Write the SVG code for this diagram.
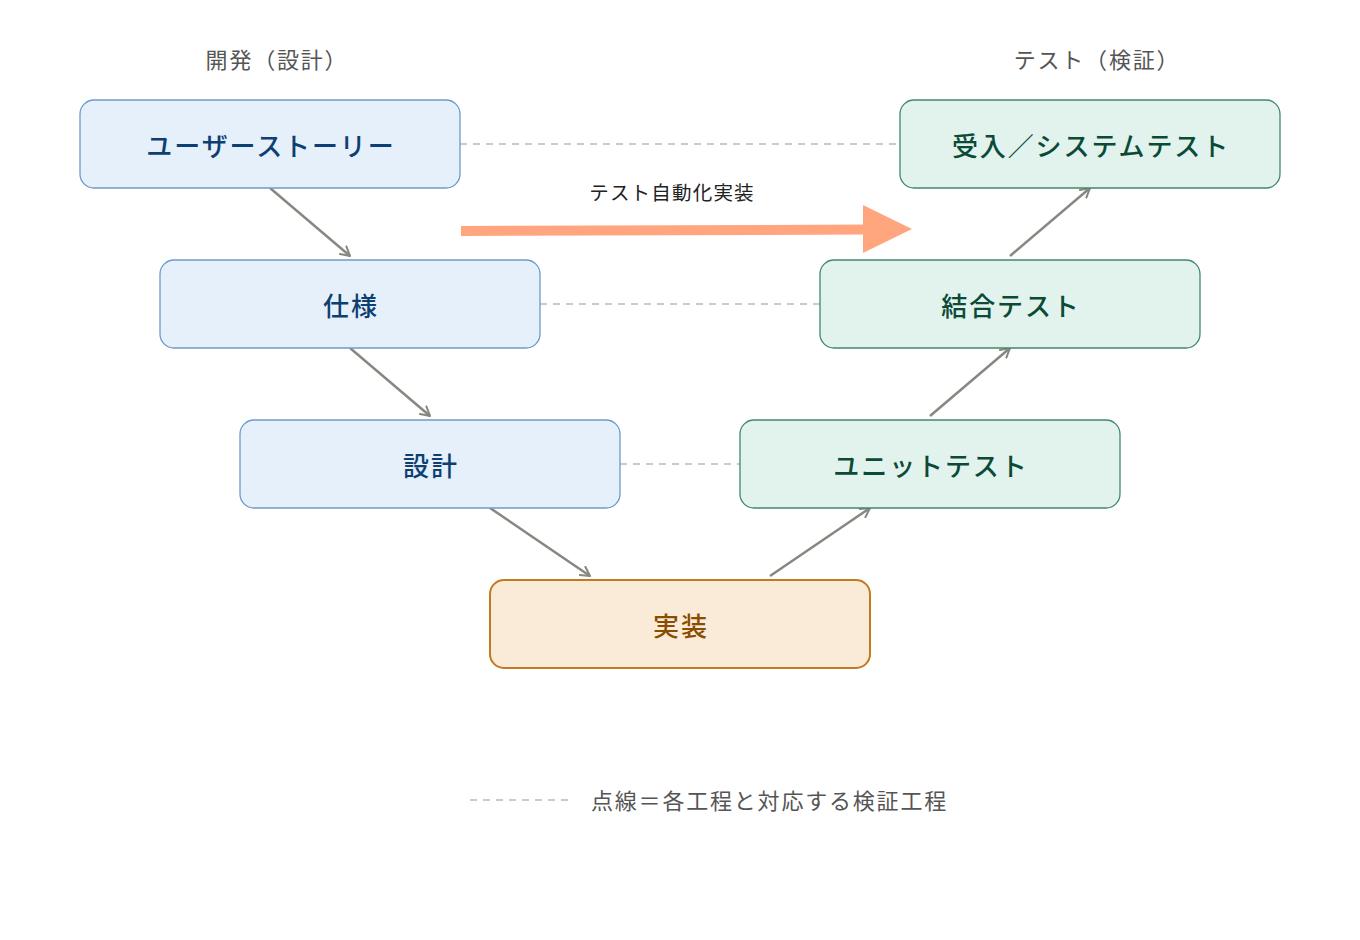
<svg xmlns="http://www.w3.org/2000/svg" width="1360" height="940" viewBox="0 0 1360 940">
<defs>
<style>
text{font-family:"Noto Sans CJK JP","Noto Sans",sans-serif;text-anchor:middle}
.hdr{font-size:22px;fill:#555;letter-spacing:1.8px}
.lbl{font-size:26px;font-weight:500;letter-spacing:1.9px}
.dev rect{fill:#E6F0FA;stroke:#6C9ACB;stroke-width:1.3}
.dev text{fill:#0D3F73}
.tst rect{fill:#E1F3EC;stroke:#3E8A6C;stroke-width:1.3}
.tst text{fill:#0B4A37}
.impl rect{fill:#FAEBD8;stroke:#C07A20;stroke-width:2}
.impl text{fill:#8A4C00}
.arr{stroke:#888780;stroke-width:2.5;fill:none;marker-end:url(#ah)}
.dash{stroke:#BDBBB6;stroke-width:1.5;stroke-dasharray:7 6;fill:none}
</style>
<marker id="ah" viewBox="0 0 12 12" refX="10" refY="6" markerWidth="12" markerHeight="12" markerUnits="userSpaceOnUse" orient="auto">
<path d="M1,1 L10,6 L1,11" fill="none" stroke="#888780" stroke-width="2" stroke-linecap="round" stroke-linejoin="round"/>
</marker>
</defs>
<rect width="1360" height="940" fill="#fff"/>
<text class="hdr" x="277" y="68">開発（設計）</text>
<text class="hdr" x="1097" y="68">テスト（検証）</text>
<g id="connectors">
<line class="dash" x1="460" y1="144" x2="900" y2="144"/>
<line class="dash" x1="540" y1="304" x2="820" y2="304"/>
<line class="dash" x1="620" y1="464" x2="740" y2="464"/>
<line class="arr" x1="270" y1="188" x2="350" y2="256"/>
<line class="arr" x1="350" y1="348" x2="430" y2="416"/>
<line class="arr" x1="490" y1="508" x2="590" y2="576"/>
<line class="arr" x1="770" y1="576" x2="870" y2="508"/>
<line class="arr" x1="930" y1="416" x2="1010" y2="348"/>
<line class="arr" x1="1010" y1="256" x2="1090" y2="188"/>
<line x1="461" y1="231" x2="866" y2="229.5" stroke="#FFA67E" stroke-width="10"/>
<polygon points="863,205 912,229 863,253" fill="#FFA67E"/>
<text x="672" y="200" style="font-size:19.5px;fill:#222;letter-spacing:1.2px">テスト自動化実装</text>
</g>
<g id="n-story" class="dev"><rect x="80" y="100" width="380" height="88" rx="14"/><text class="lbl" x="271" y="156">ユーザーストーリー</text></g>
<g id="n-spec" class="dev"><rect x="160" y="260" width="380" height="88" rx="14"/><text class="lbl" x="351" y="316">仕様</text></g>
<g id="n-design" class="dev"><rect x="240" y="420" width="380" height="88" rx="14"/><text class="lbl" x="431" y="476">設計</text></g>
<g id="n-impl" class="impl"><rect x="490" y="580" width="380" height="88" rx="14"/><text class="lbl" x="681" y="636">実装</text></g>
<g id="n-unit" class="tst"><rect x="740" y="420" width="380" height="88" rx="14"/><text class="lbl" x="931" y="476">ユニットテスト</text></g>
<g id="n-integ" class="tst"><rect x="820" y="260" width="380" height="88" rx="14"/><text class="lbl" x="1011" y="316">結合テスト</text></g>
<g id="n-accept" class="tst"><rect x="900" y="100" width="380" height="88" rx="14"/><text class="lbl" x="1091" y="156">受入／システムテスト</text></g>
<g id="legend">
<line class="dash" x1="470" y1="800" x2="570" y2="800"/>
<text x="591" y="809" style="font-size:22px;fill:#555;text-anchor:start;letter-spacing:1.8px">点線＝各工程と対応する検証工程</text>
</g>
</svg>
